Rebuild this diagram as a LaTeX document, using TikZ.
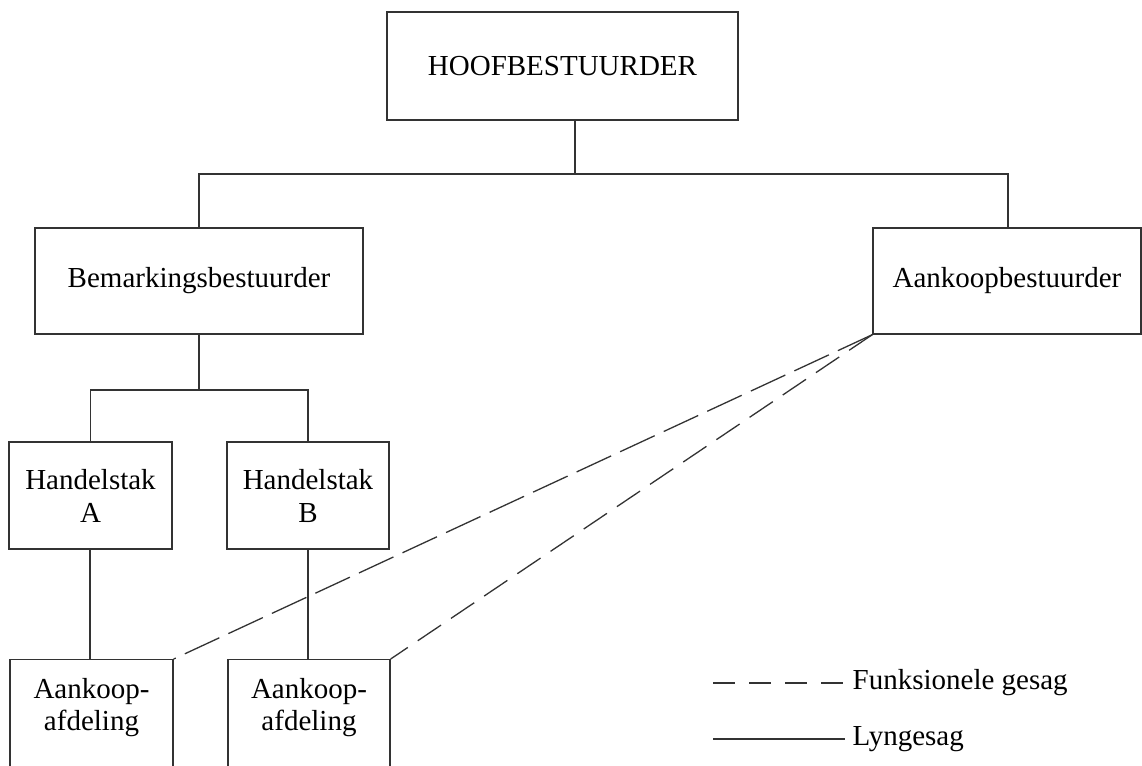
\documentclass[tikz,border=0pt]{standalone}
\usepackage{fontspec}
\setmainfont{Liberation Serif}
\begin{document}
\begin{tikzpicture}[x=1pt,y=-1pt,line width=1.3pt,
  ln/.style={draw=black!80},
  box/.style={draw=black!80,rectangle,inner sep=0pt,align=center,font=\fontsize{29}{33}\selectfont},
  lbl/.style={inner sep=0pt,align=center,font=\fontsize{29}{32}\selectfont},
  func/.style={ln,dash pattern=on 38pt off 10pt},
  func2/.style={ln,dash pattern=on 28pt off 12pt},
  legdash/.style={ln,dash pattern=on 22pt off 14pt}]
\useasboundingbox (0,0) rectangle (1142,765);
\fill[white] (0,0) rectangle (1142,765);
\clip (0,0) rectangle (1142,765);
% boxes
\node[box,minimum width=351pt,minimum height=108pt] (hoof) at (562.5,66) {HOOFBESTUURDER};
\node[box,minimum width=328pt,minimum height=106pt] (bem) at (199,281) {Bemarkingsbestuurder};
\node[box,minimum width=268pt,minimum height=106pt] (aan) at (1007,281) {Aankoopbestuurder};
\node[box,minimum width=163pt,minimum height=107pt] (ha) at (90.5,495.5) {Handelstak\\A};
\node[box,minimum width=162pt,minimum height=107pt] (hb) at (308,495.5) {Handelstak\\B};
\node[box,minimum width=163pt,minimum height=140pt,anchor=north] (afa) at (91.5,659) {};
\node[box,minimum width=162pt,minimum height=140pt,anchor=north] (afb) at (309,659) {};
\node[lbl] (afat) at (91.5,708) {Aankoop-\\afdeling};
\node[lbl] (afbt) at (309,708) {Aankoop-\\afdeling};
% tree connectors
\coordinate (j1) at (575,174);
\coordinate (j2) at (199,390);
\draw[ln] (hoof.south -| j1) -- (j1);
\draw[ln] (bem.north) |- (j1) -| (aan.north -| 1008,0);
\draw[ln] (bem.south) -- (j2);
\draw[ln] (ha.north) |- (j2) -| (hb.north);
\draw[ln] (ha.south -| 90,0) -- (afa.north -| 90,0);
\draw[ln] (hb.south) -- (afb.north -| hb.south);
% functional authority
\draw[func] (aan.south west) -- (afa.north east);
\draw[func2] (aan.south west) -- (afb.north east);
% legend
\coordinate (l1a) at (713,683);
\coordinate (l1b) at (845,683);
\coordinate (l2a) at (713,739);
\coordinate (l2b) at (845,739);
\draw[legdash] (l1a) -- (l1b);
\draw[ln] (l2a) -- (l2b);
\node[lbl,anchor=west] (leg1) at (852,683) {Funksionele gesag};
\node[lbl,anchor=west] (leg2) at (852,739) {Lyngesag};
\end{tikzpicture}
\end{document}
